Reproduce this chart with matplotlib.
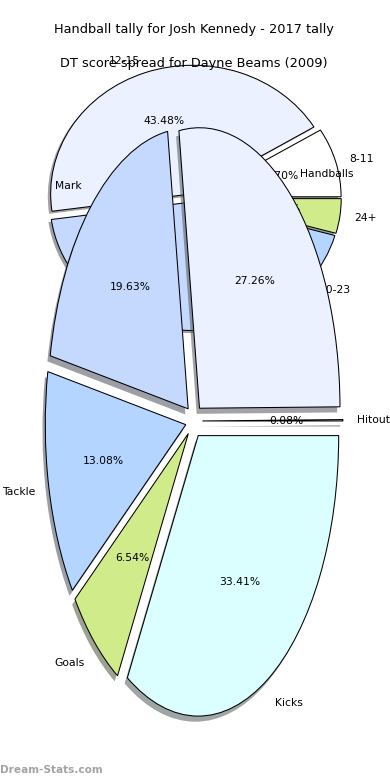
import matplotlib
matplotlib.use("Agg")
import matplotlib.pyplot as plt
import matplotlib.patches as mpatches
import matplotlib.colors as mcolors
import numpy as np

plt.rcParams["font.size"] = 7.75

# Josh Kennedy 2017 - handball tally (front pie)
fg_labels = ["Hitout", "Handballs", "Mark", "Tackle", "Goals", "Kicks"]
fg_values = [0.08, 27.26, 19.63, 13.08, 6.54, 33.41]

# Dayne Beams 2009 - DT score spread, games per band (back pie)
bg_labels = ["8-11", "12-15", "16-19", "20-23", "24+"]
bg_games = [2, 10, 7, 3, 1]

colors = ["#ffffff", "#ebf1ff", "#c5d9ff", "#b3d5ff", "#d0eb8a", "#dbffff"]

W, H = 390, 780
fig = plt.figure(figsize=(W / 100, H / 100), dpi=100)


def pie_axes(cx, cy, rx, ry):
    # axes spanning -1.25..1.25 around a pie centred at pixel (cx, cy)
    w, h = 2.5 * rx, 2.5 * ry
    return fig.add_axes([(cx - w / 2) / W, (H - cy - h / 2) / H, w / W, h / H])


def add_shadows(ax, wedges, off=-0.02):
    # old-style pie shadow: darkened copy shifted in data units, under all wedges
    for w in wedges:
        c = 0.3 * np.array(mcolors.to_rgb(w.get_facecolor()))
        ax.add_patch(mpatches.Wedge((w.center[0] + off, w.center[1] + off), w.r,
                                    w.theta1, w.theta2, facecolor=c, edgecolor="none",
                                    alpha=0.5, zorder=0.9 * w.get_zorder(), clip_on=False))


edge = dict(edgecolor="black", linewidth=0.75)

ax_bg = pie_axes(194.3, 198, 142, 128.5)
wedges, _, _ = ax_bg.pie(bg_games, labels=bg_labels, colors=colors[:5], explode=[0.035] * 5,
                         autopct="%.2f%%", startangle=0, wedgeprops=edge)
add_shadows(ax_bg, wedges)
ax_bg.set_aspect("auto")
ax_bg.set_xlim(-1.25, 1.25)
ax_bg.set_ylim(-1.25, 1.25)
ax_bg.set_title("DT score spread for Dayne Beams (2009)", y=1 - 26.5 / (2.5 * 128.5),
                pad=0, va="center")

ax_fg = pie_axes(194, 421, 140.5, 280.5)
wedges, _, _ = ax_fg.pie(fg_values, labels=fg_labels, colors=colors, explode=[0.06] * 6,
                         autopct="%.2f%%", startangle=0, wedgeprops=edge)
add_shadows(ax_fg, wedges)
ax_fg.set_aspect("auto")
ax_fg.set_xlim(-1.25, 1.25)
ax_fg.set_ylim(-1.25, 1.25)
ax_fg.set_title("Handball tally for Josh Kennedy - 2017 tally", y=1.0576, pad=0, va="center")

fig.text(0.0, 10 / H, "Dream-Stats.com", color="#a3a3a3", fontsize=7.6,
         fontweight="bold", ha="left", va="center")

fig.savefig("out.png", dpi=100)
